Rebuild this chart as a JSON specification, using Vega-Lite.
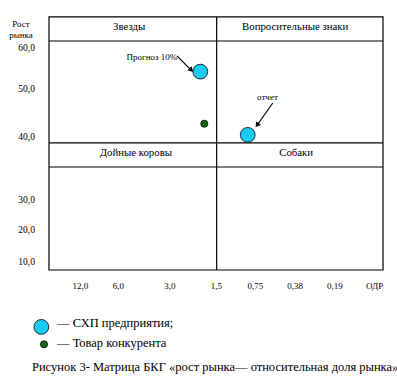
{
  "$schema": "https://vega.github.io/schema/vega-lite/v6.json",
  "width": 397,
  "height": 376,
  "padding": 0,
  "autosize": {"type": "none"},
  "config": {"view": {"stroke": null}},
  "layer": [
    {
      "data": {"values": [{"x": 0, "x2": 100, "y": 0, "y2": 100}]},
      "mark": {"type": "rect", "fill": "transparent", "stroke": "black", "strokeWidth": 1.2},
      "encoding": {
        "x": {"field": "x", "type": "quantitative", "scale": {"domain": [-14.67, 104.19], "nice": false, "zero": false}, "axis": null},
        "x2": {"field": "x2"},
        "y": {"field": "y", "type": "quantitative", "scale": {"domain": [-41.9, 106.7], "nice": false, "zero": false}, "axis": null},
        "y2": {"field": "y2"}
      }
    },
    {
      "data": {"values": [
        {"x": 0, "x2": 100, "y": 90.5, "y2": 90.5},
        {"x": 0, "x2": 100, "y": 50.2, "y2": 50.2},
        {"x": 0, "x2": 100, "y": 40.7, "y2": 40.7},
        {"x": 50.2, "x2": 50.2, "y": 0, "y2": 100}
      ]},
      "mark": {"type": "rule", "color": "black", "strokeWidth": 1.2},
      "encoding": {
        "x": {"field": "x", "type": "quantitative"},
        "x2": {"field": "x2"},
        "y": {"field": "y", "type": "quantitative"},
        "y2": {"field": "y2"}
      }
    },
    {
      "data": {"values": [
        {"label": "Звезды", "x": 24, "y": 96},
        {"label": "Вопросительные знаки", "x": 73.7, "y": 96},
        {"label": "Дойные коровы", "x": 26, "y": 46.2},
        {"label": "Собаки", "x": 74, "y": 46.2}
      ]},
      "mark": {"type": "text", "font": "Liberation Serif", "fontSize": 10.8, "color": "black", "align": "center", "baseline": "middle"},
      "encoding": {
        "x": {"field": "x", "type": "quantitative"},
        "y": {"field": "y", "type": "quantitative"},
        "text": {"field": "label"}
      }
    },
    {
      "data": {"values": [
        {"label": "60,0", "x": -4.2, "y": 87.7},
        {"label": "50,0", "x": -4.2, "y": 71.5},
        {"label": "40,0", "x": -4.2, "y": 52.6},
        {"label": "30,0", "x": -4.2, "y": 27.7},
        {"label": "20,0", "x": -4.2, "y": 15.8},
        {"label": "10,0", "x": -4.2, "y": 3.2}
      ]},
      "mark": {"type": "text", "font": "Liberation Serif", "fontSize": 9.5, "color": "black", "align": "right", "baseline": "middle"},
      "encoding": {
        "x": {"field": "x", "type": "quantitative"},
        "y": {"field": "y", "type": "quantitative"},
        "text": {"field": "label"}
      }
    },
    {
      "data": {"values": [
        {"label": "Рост", "x": -8.4, "y": 97.2},
        {"label": "рынка", "x": -8.4, "y": 92.9},
        {"label": "12,0", "x": 9.4, "y": -6.3},
        {"label": "6,0", "x": 20.8, "y": -6.3},
        {"label": "3,0", "x": 36.2, "y": -6.3},
        {"label": "1,5", "x": 50.1, "y": -6.3},
        {"label": "0,75", "x": 61.8, "y": -6.3},
        {"label": "0,38", "x": 73.7, "y": -6.3},
        {"label": "0,19", "x": 85.6, "y": -6.3},
        {"label": "ОДР", "x": 97.5, "y": -6.3}
      ]},
      "mark": {"type": "text", "font": "Liberation Serif", "fontSize": 9, "color": "black", "align": "center", "baseline": "middle"},
      "encoding": {
        "x": {"field": "x", "type": "quantitative"},
        "y": {"field": "y", "type": "quantitative"},
        "text": {"field": "label"}
      }
    },
    {
      "data": {"values": [
        {"x1": 38.3, "y1": 84.6, "x2": 42.2, "y2": 79.5},
        {"x1": 67.0, "y1": 66.0, "x2": 62.6, "y2": 57.8}
      ]},
      "mark": {"type": "rule", "color": "black", "strokeWidth": 1.2},
      "encoding": {
        "x": {"field": "x1", "type": "quantitative"},
        "x2": {"field": "x2"},
        "y": {"field": "y1", "type": "quantitative"},
        "y2": {"field": "y2"}
      }
    },
    {
      "data": {"values": [{"x": 42.6, "y": 79.0}]},
      "mark": {"type": "point", "shape": "triangle-right", "filled": true, "color": "black", "opacity": 1, "size": 35, "angle": 45},
      "encoding": {
        "x": {"field": "x", "type": "quantitative"},
        "y": {"field": "y", "type": "quantitative"}
      }
    },
    {
      "data": {"values": [{"x": 62.3, "y": 57.2}]},
      "mark": {"type": "point", "shape": "triangle-right", "filled": true, "color": "black", "opacity": 1, "size": 35, "angle": 125},
      "encoding": {
        "x": {"field": "x", "type": "quantitative"},
        "y": {"field": "y", "type": "quantitative"}
      }
    },
    {
      "data": {"values": [
        {"label": "Прогноз 10%", "x": 30.8, "y": 84.2},
        {"label": "отчет", "x": 65.4, "y": 68.4}
      ]},
      "mark": {"type": "text", "font": "Liberation Serif", "fontSize": 9, "color": "black", "align": "center", "baseline": "middle"},
      "encoding": {
        "x": {"field": "x", "type": "quantitative"},
        "y": {"field": "y", "type": "quantitative"},
        "text": {"field": "label"}
      }
    },
    {
      "data": {"values": [
        {"kind": "СХП", "x": 45.3, "y": 78.4},
        {"kind": "СХП", "x": 59.5, "y": 53.4},
        {"kind": "Конкурент", "x": 46.5, "y": 57.8},
        {"kind": "СХП", "x": -2.3, "y": -22.5},
        {"kind": "Конкурент", "x": -1.5, "y": -29.4}
      ]},
      "mark": {"type": "point", "filled": true, "shape": "circle", "opacity": 1, "stroke": "black", "strokeWidth": 0.8},
      "encoding": {
        "x": {"field": "x", "type": "quantitative"},
        "y": {"field": "y", "type": "quantitative"},
        "color": {"field": "kind", "type": "nominal", "scale": {"domain": ["СХП", "Конкурент"], "range": ["#1ACCF5", "#0F6B0F"]}, "legend": null},
        "size": {"field": "kind", "type": "nominal", "scale": {"domain": ["СХП", "Конкурент"], "range": [220, 50]}, "legend": null}
      }
    },
    {
      "data": {"values": [
        {"label": "— СХП предприятия;", "x": 2.4, "y": -20.9},
        {"label": "— Товар конкурента", "x": 2.4, "y": -28.9}
      ]},
      "mark": {"type": "text", "font": "Liberation Serif", "fontSize": 12.5, "color": "black", "align": "left", "baseline": "middle"},
      "encoding": {
        "x": {"field": "x", "type": "quantitative"},
        "y": {"field": "y", "type": "quantitative"},
        "text": {"field": "label"}
      }
    },
    {
      "data": {"values": [
        {"label": "Рисунок 3- Матрица БКГ «рост рынка— относительная доля рынка»", "x": -5.1, "y": -38.2}
      ]},
      "mark": {"type": "text", "font": "Liberation Serif", "fontSize": 12.5, "color": "black", "align": "left", "baseline": "middle"},
      "encoding": {
        "x": {"field": "x", "type": "quantitative"},
        "y": {"field": "y", "type": "quantitative"},
        "text": {"field": "label"}
      }
    }
  ]
}
